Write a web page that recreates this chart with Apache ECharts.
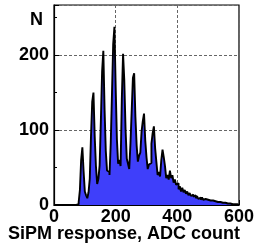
<!DOCTYPE html>
<html>
<head>
<meta charset="utf-8">
<script src="https://cdn.jsdelivr.net/npm/echarts@6/dist/echarts.min.js"></script>
<style>
  html, body { margin: 0; padding: 0; background: #fff; }
  #e1 { width: 257px; height: 248px; }
</style>
</head>
<body>
<div id="e1"></div>
<script>
  // histogram: bin width in ADC counts, counts per bin starting at 0
  var binWidth = 4;
  var counts = [
    0,0,0,0,0,0,0,0,0,0, 0,0,0,0,0,0,0,0,0,1,            // 0-76
    4,20,60,77,45,18,13,9,17,35,                         // 80-116
    92,138,150,92,52,28,35,53,112,178,                   // 120-156
    206,128,72,46,44,40,82,148,215,238,                  // 160-196
    158,88,55,60,52,142,202,166,102,62,                  // 200-236
    55,48,82,126,170,176,118,80,58,66,                   // 240-276
    70,98,112,122,86,64,48,54,56,82,                     // 280-316
    96,105,76,58,40,44,38,60,74,64,                      // 320-356
    52,36,40,34,46,36,40,30,34,27,                       // 360-396
    29,21,25,18,23,17,20,15,18,13,                       // 400-436
    16,12,14,11,13,9,12,8,10,7,                          // 440-476
    10,7,8,6,7,5,6,4,6,4,                                // 480-516
    5,3,4,3,4,2,3,2,3,1,                                 // 520-556
    2,1,2,1,1,2,1,1,1,0                                  // 560-596
  ];
  var xTicks = [0, 200, 400, 600];
  var yTicks = [0, 100, 200];

  var histData = [];
  for (var i = 0; i < counts.length; i++) {
    histData.push([i * binWidth, counts[i]]);
  }
  histData.push([counts.length * binWidth, counts[counts.length - 1]]);

  var myChart = echarts.init(document.getElementById('e1'), null, { renderer: 'canvas' });
  var font = '"Liberation Sans", Arial, Helvetica, sans-serif';
  var option = {
    animation: false,
    backgroundColor: '#fff',
    grid: {
      left: 54, right: 17, top: 5, bottom: 43,
      show: true, borderColor: '#000', borderWidth: 1.2
    },
    xAxis: {
      type: 'value',
      min: xTicks[0], max: xTicks[xTicks.length - 1], interval: 200,
      axisLine: { show: true, lineStyle: { color: '#000', width: 1.2 } },
      axisTick: { show: true, inside: true, length: 5, lineStyle: { color: '#000' } },
      minorTick: { show: true, splitNumber: 2, length: 3, lineStyle: { color: '#000' } },
      axisLabel: {
        color: '#000', fontFamily: font, fontWeight: 'bold', fontSize: 18, margin: 3
      },
      splitLine: { show: true, lineStyle: { color: '#666', width: 1, type: [3, 2] } }
    },
    yAxis: {
      type: 'value',
      min: yTicks[0], max: 267, interval: 100,
      axisLine: { show: true, lineStyle: { color: '#000', width: 1.2 } },
      axisTick: { show: true, inside: true, length: 5, lineStyle: { color: '#000' } },
      minorTick: { show: true, splitNumber: 2, length: 3, lineStyle: { color: '#000' } },
      axisLabel: {
        color: '#000', fontFamily: font, fontWeight: 'bold', fontSize: 18, margin: 5,
        showMaxLabel: false
      },
      splitLine: { show: true, lineStyle: { color: '#666', width: 1, type: [3, 2] } }
    },
    graphic: [
      {
        type: 'text', left: 30, top: 11,
        style: { text: 'N', font: 'bold 18px ' + font, fill: '#000' }
      },
      {
        type: 'text', right: 17, top: 225,
        style: { text: 'SiPM response, ADC count', font: 'bold 18px ' + font, fill: '#000' }
      }
    ],
    series: [
      {
        name: 'SiPM',
        type: 'line',
        step: 'end',
        symbol: 'none',
        data: histData,
        lineStyle: { color: '#000', width: 1.9 },
        areaStyle: { color: '#3f3ffa', opacity: 1 }
      }
    ]
  };
  myChart.setOption(option);
</script>
</body>
</html>
